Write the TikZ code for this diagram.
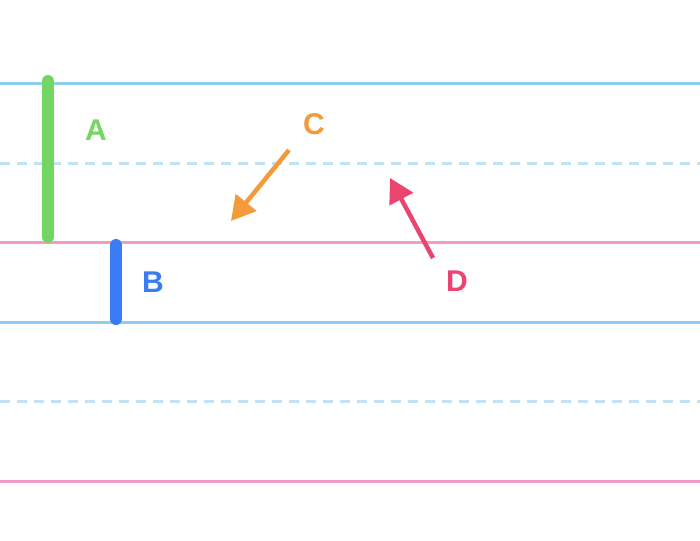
\documentclass[tikz,border=0pt]{standalone}
\usepackage{fontspec}
\setmainfont{Liberation Sans}
\usetikzlibrary{arrows.meta}
\definecolor{lblue}{HTML}{8ECDF0}
\definecolor{dblue}{HTML}{BFE3F5}
\definecolor{lpink}{HTML}{F29BC9}
\definecolor{cgreen}{HTML}{74D662}
\definecolor{cblue}{HTML}{3A7CF5}
\definecolor{corange}{HTML}{F39A3B}
\definecolor{cred}{HTML}{EC4470}
\begin{document}
\begin{tikzpicture}[x=1pt,y=-1pt,
 lbl/.style={font=\bfseries\fontsize{30}{30}\selectfont},
 bar/.style={line width=12pt,line cap=round},
 arr/.style={line width=4.5pt,-{Triangle[length=24pt,width=26pt]}}]
\useasboundingbox (0,0) rectangle (700,540);
\fill[white] (0,0) rectangle (700,540);
\draw[lblue,line width=3pt] (0,84) -- (700,84);
\draw[dblue,line width=3pt,dash pattern=on 10pt off 7pt] (0,163) -- (700,163);
\draw[lpink,line width=3pt] (0,242) -- (700,242);
\draw[lblue,line width=3pt] (0,322) -- (700,322);
\draw[dblue,line width=3pt,dash pattern=on 10pt off 7pt] (0,401) -- (700,401);
\draw[lpink,line width=3pt] (0,481) -- (700,481);
\coordinate (a1) at (48,81); \coordinate (a2) at (48,237);
\draw[bar,cgreen] (a1) -- (a2);
\coordinate (b1) at (116,245); \coordinate (b2) at (116,319);
\draw[bar,cblue] (b1) -- (b2);
\node[lbl,text=cgreen] (A) at (96,130) {A};
\node[lbl,text=cblue] (B) at (153,282) {B};
\node[lbl,text=corange] (C) at (314,124) {C};
\node[lbl,text=cred] (D) at (457,281) {D};
\coordinate (c1) at (289,150); \coordinate (c2) at (231,221);
\draw[arr,corange] (c1) -- (c2);
\coordinate (d1) at (433,258); \coordinate (d2) at (390,178);
\draw[arr,cred] (d1) -- (d2);
\end{tikzpicture}
\end{document}
